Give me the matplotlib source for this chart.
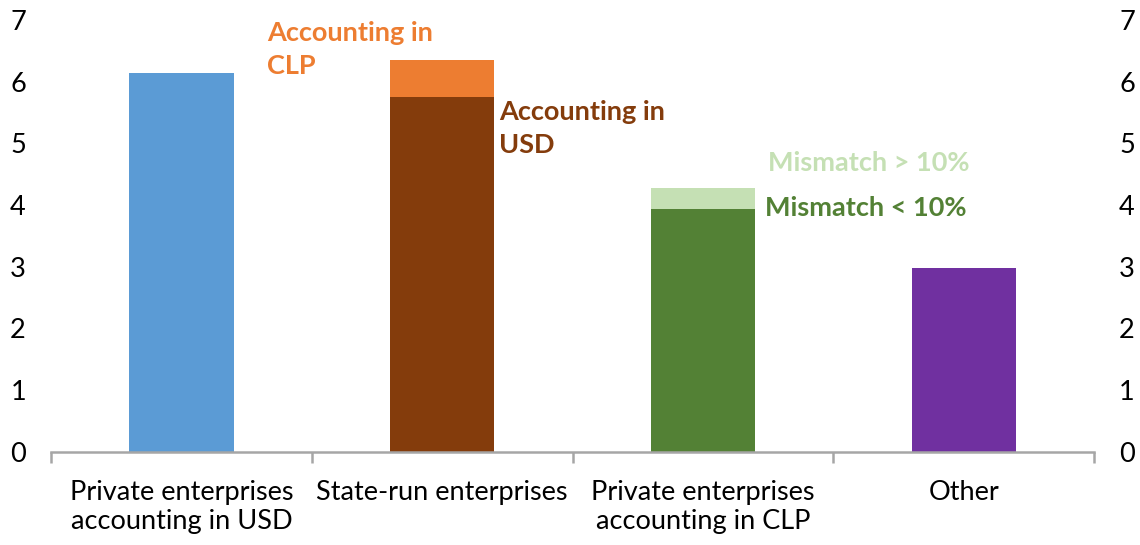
import matplotlib.pyplot as plt
import numpy as np

categories = ["Private enterprises\naccounting in USD", "State-run enterprises",
              "Private enterprises\naccounting in CLP", "Other"]
base_values = [6.15, 5.75, 3.93, 2.98]
top_values = [0.0, 0.60, 0.35, 0.0]
base_colors = ["#5b9bd5", "#843c0c", "#538135", "#7030a0"]
top_colors = ["#5b9bd5", "#ed7d31", "#c5e0b4", "#7030a0"]

plt.rcParams['font.family'] = ['Lato', 'DejaVu Sans']

fig = plt.figure(figsize=(11.4, 5.45), dpi=100)
ax = fig.add_axes([0.0447, 0.171, 0.915, 0.792])

x = np.arange(len(categories))
ax.bar(x, base_values, width=0.4, color=base_colors)
ax.bar(x, top_values, width=0.4, bottom=base_values, color=top_colors)

ax.set_xlim(-0.5, 3.5)
ax.set_ylim(0, 7)
ax.set_yticks(range(8))

for side in ['left', 'right', 'top']:
    ax.spines[side].set_visible(False)
ax.spines['bottom'].set_color('#a6a6a6')
ax.spines['bottom'].set_linewidth(1.8)

# ticks between categories, labels centred under bars
ax.set_xticks(np.arange(-0.5, 4.0, 1.0))
ax.set_xticklabels([])
ax.tick_params(axis='x', which='major', length=8, width=1.8, color='#a6a6a6')
ax.set_xticks(x, minor=True)
ax.set_xticklabels(categories, minor=True, fontsize=19.5, linespacing=1.2)
ax.tick_params(axis='x', which='minor', length=0, pad=20)

ax.tick_params(axis='y', length=0, labelsize=19.5, pad=18, labelright=True)

lbl = dict(fontsize=19.5, fontweight='bold', ha='left', va='center')
ax.text(0.33, 6.53, "Accounting in\nCLP", color="#ed7d31", linespacing=1.45, **lbl)
ax.text(1.22, 5.25, "Accounting in\nUSD", color="#843c0c", linespacing=1.45, **lbl)
ax.text(2.25, 4.68, "Mismatch > 10%", color="#c5e0b4", **lbl)
ax.text(2.24, 3.95, "Mismatch < 10%", color="#538135", **lbl)

fig.savefig("out.png", dpi=100)
